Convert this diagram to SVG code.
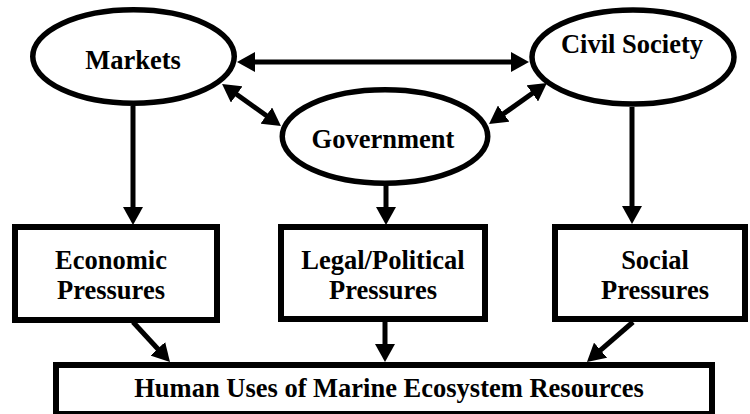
<svg xmlns="http://www.w3.org/2000/svg" width="750" height="414" viewBox="0 0 750 414">
<style>
.node{fill:#fff;stroke:#000;stroke-width:5.5}
.box{fill:#fff;stroke:#000;stroke-width:6}
.c{stroke:#000;stroke-width:5;fill:none}
.one{marker-end:url(#ah)}
.two{marker-start:url(#ah);marker-end:url(#ah)}
</style>
<defs>
<marker id="ah" markerUnits="userSpaceOnUse" viewBox="0 0 18 20" markerWidth="18" markerHeight="20" refX="8" refY="10" orient="auto-start-reverse">
<path d="M0,0 L18,10 L0,20 z" fill="#000"/>
</marker>
</defs>
<rect width="750" height="414" fill="#fff"/>
<g id="connectors">
<line class="c two" x1="247" y1="62" x2="519" y2="62"/>
<line class="c two" x1="230.2" y1="89.8" x2="272.8" y2="120.2"/>
<line class="c two" x1="497.2" y1="118.3" x2="538.8" y2="88.7"/>
<line class="c one" x1="133" y1="106" x2="133" y2="215"/>
<line class="c one" x1="386" y1="185" x2="386" y2="215"/>
<line class="c one" x1="632" y1="107" x2="632" y2="214"/>
<line class="c one" x1="133" y1="322" x2="163.2" y2="354.7"/>
<line class="c one" x1="385" y1="322" x2="385" y2="352"/>
<line class="c one" x1="633" y1="322" x2="594.5" y2="355.4"/>
</g>
<g id="markets">
<ellipse class="node" cx="133.5" cy="56.5" rx="100.75" ry="46.75"/>
<text x="133" y="69" font-family="Liberation Serif" font-weight="bold" font-size="26.5" text-anchor="middle">Markets</text>
</g>
<g id="civil-society">
<ellipse class="node" cx="633" cy="57" rx="101" ry="47"/>
<text x="632" y="53" font-family="Liberation Serif" font-weight="bold" font-size="26.5" text-anchor="middle">Civil Society</text>
</g>
<g id="government">
<ellipse class="node" cx="385" cy="136.5" rx="102.75" ry="46.75"/>
<text x="383" y="148" font-family="Liberation Serif" font-weight="bold" font-size="26.5" text-anchor="middle">Government</text>
</g>
<g id="economic">
<rect class="box" x="15" y="227" width="202" height="93"/>
<text x="111" y="269" font-family="Liberation Serif" font-weight="bold" font-size="26.5" text-anchor="middle">Economic</text>
<text x="111" y="299" font-family="Liberation Serif" font-weight="bold" font-size="26.5" text-anchor="middle">Pressures</text>
</g>
<g id="legal">
<rect class="box" x="281" y="227" width="204" height="92"/>
<text x="383" y="269" font-family="Liberation Serif" font-weight="bold" font-size="26.5" text-anchor="middle">Legal/Political</text>
<text x="383" y="299" font-family="Liberation Serif" font-weight="bold" font-size="26.5" text-anchor="middle">Pressures</text>
</g>
<g id="social">
<rect class="box" x="555" y="227" width="190" height="92"/>
<text x="655" y="269" font-family="Liberation Serif" font-weight="bold" font-size="26.5" text-anchor="middle">Social</text>
<text x="655" y="299" font-family="Liberation Serif" font-weight="bold" font-size="26.5" text-anchor="middle">Pressures</text>
</g>
<g id="human-uses">
<rect class="box" x="56" y="365" width="656" height="49"/>
<text x="389" y="397" font-family="Liberation Serif" font-weight="bold" font-size="26.5" text-anchor="middle">Human Uses of Marine Ecosystem Resources</text>
</g>
</svg>
